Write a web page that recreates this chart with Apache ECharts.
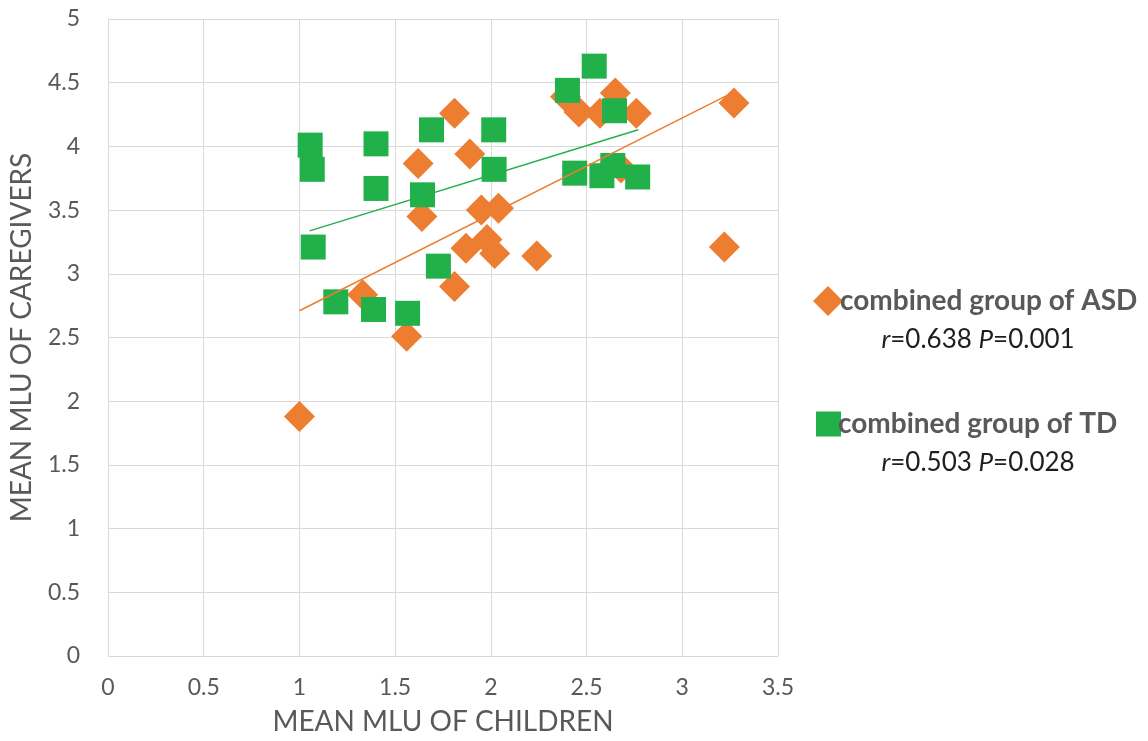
<!DOCTYPE html>
<html><head><meta charset="utf-8">
<script src="https://cdn.jsdelivr.net/npm/echarts@6/dist/echarts.min.js"></script>
<style>html,body{margin:0;padding:0;background:#fff}#c{width:1148px;height:741px}</style>
</head><body><div id="c"></div>
<script>
const asdX = [1.00,1.33,1.56,1.62,1.64,1.81,1.81,1.87,1.89,1.95,1.98,2.02,2.04,2.24,2.39,2.46,2.57,2.65,2.68,2.76,3.22,3.27];
const asdY = [1.88,2.835,2.51,3.865,3.45,4.26,2.90,3.20,3.94,3.50,3.27,3.16,3.515,3.14,4.39,4.27,4.26,4.42,3.83,4.26,3.21,4.34];
const tdX = [1.056,1.067,1.072,1.19,1.387,1.40,1.40,1.565,1.643,1.69,1.726,2.015,2.017,2.40,2.438,2.54,2.58,2.637,2.646,2.767];
const tdY = [4.01,3.82,3.21,2.78,2.72,4.02,3.67,2.69,3.62,4.13,3.06,4.13,3.82,4.44,3.79,4.63,3.77,3.85,4.28,3.76];
const asdTrendX = [1.00,3.26];
const asdTrendY = [2.71,4.42];
const tdTrendX = [1.053,2.77];
const tdTrendY = [3.337,4.13];
const asdName = 'combined group of ASD';
const tdName = 'combined group of TD';
const asdStats = ['0.638','0.001'];
const tdStats = ['0.503','0.028'];
const xTitle = 'MEAN MLU OF CHILDREN';
const yTitle = 'MEAN MLU OF CAREGIVERS';

const zip = (a,b) => a.map((v,i)=>[v,b[i]]);
const ORANGE = '#ED7D31', GREEN = '#22B04B', GREY = '#595959', GRID = '#D9D9D9';
const chart = echarts.init(document.getElementById('c'));
const statText = (s, y) => ({
  type:'text', x: 978, y: y,
  style:{
    text: `{i|r}{n|=${s[0]} }{i|P}{n|=${s[1]}}`,
    rich:{
      i:{fontStyle:'italic', fontFamily:'Lato', fontSize:26, fill:'#1e1e1e'},
      n:{fontFamily:'Lato', fontSize:26, fill:'#1e1e1e'}
    },
    align:'center', verticalAlign:'middle'
  }
});
const legendBase = {
  orient:'vertical', itemGap:0,
  textStyle:{fontFamily:'Lato', fontWeight:'bold', fontSize:28, color:GREY, padding:[0,0,0,-8]},
  selectedMode:false
};
chart.setOption({
  animation:false,
  grid:{left:104, top:19, width:674, height:637, containLabel:false},
  xAxis:{
    type:'value', min:0, max:3.5, interval:0.5,
    name:xTitle, nameLocation:'middle', nameGap:52,
    nameTextStyle:{fontFamily:'Lato', fontSize:28, color:GREY},
    axisLine:{show:true, lineStyle:{color:GRID}}, axisTick:{show:false},
    axisLabel:{fontFamily:'Lato', fontSize:23, color:GREY, margin:20},
    splitLine:{show:true, lineStyle:{color:GRID, width:1}}
  },
  yAxis:{
    type:'value', min:0, max:5, interval:0.5,
    name:yTitle, nameLocation:'middle', nameGap:72, nameRotate:90,
    nameTextStyle:{fontFamily:'Lato', fontSize:28, color:GREY},
    axisLine:{show:true, lineStyle:{color:GRID}}, axisTick:{show:false},
    axisLabel:{fontFamily:'Lato', fontSize:23, color:GREY, margin:28},
    splitLine:{show:true, lineStyle:{color:GRID, width:1}}
  },
  legend:[
    Object.assign({}, legendBase, {left:808, top:281, itemWidth:30, itemHeight:30, data:[{name:asdName, icon:'diamond'}]}),
    Object.assign({}, legendBase, {left:811, top:405, itemWidth:25, itemHeight:25, data:[{name:tdName, icon:'rect'}]})
  ],
  graphic:[ statText(asdStats, 340), statText(tdStats, 463) ],
  series:[
    {name:asdName, type:'scatter', symbol:'diamond', symbolSize:31, data:zip(asdX,asdY), itemStyle:{color:ORANGE, opacity:1}, z:2},
    {name:tdName, type:'scatter', symbol:'rect', symbolSize:25, data:zip(tdX,tdY), itemStyle:{color:GREEN, opacity:1}, z:3},
    {name:'asdTrend', type:'line', data:zip(asdTrendX,asdTrendY), showSymbol:false, symbol:'none', lineStyle:{color:ORANGE, width:1.5}, z:4},
    {name:'tdTrend', type:'line', data:zip(tdTrendX,tdTrendY), showSymbol:false, symbol:'none', lineStyle:{color:GREEN, width:1.5}, z:4}
  ]
});
</script></body></html>
